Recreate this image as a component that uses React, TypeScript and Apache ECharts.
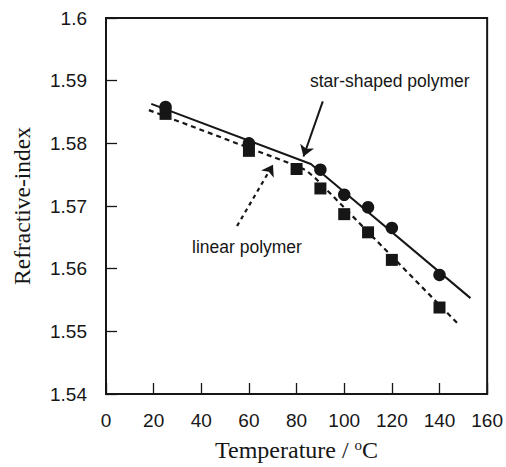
import React, { useEffect, useRef } from "react";
import * as echarts from "echarts";

// Star-shaped polymer: measured points (Temperature °C, refractive index)
const starTemps = [25, 60, 90, 100, 110, 120, 140];
const starIndex = [1.5858, 1.58, 1.5758, 1.5718, 1.5698, 1.5665, 1.559];
// Linear polymer: measured points
const linearTemps = [25, 60, 80, 90, 100, 110, 120, 140];
const linearIndex = [1.5847, 1.5788, 1.5759, 1.5728, 1.5687, 1.5658, 1.5614, 1.5538];
// Fitted trend lines (two-segment)
const starFitT = [19, 86, 153];
const starFitN = [1.5863, 1.5767, 1.5553];
const linearFitT = [18, 80, 84, 88, 148];
const linearFitN = [1.5853, 1.5764, 1.5757, 1.5744, 1.5511];
// Annotation arrows (tail -> head) in data coordinates
const starArrow = [[91, 1.5867], [82.9, 1.5779]];
const linearArrow = [[55, 1.5668], [70.1, 1.5766]];
// Axis ticks
const xTicks = { min: 0, max: 160, interval: 20 };
const yTicks = { min: 1.54, max: 1.6, interval: 0.01 };

const zip = (a: number[], b: number[]) => a.map((v, i) => [v, b[i]]);

export default function App() {
  const ref = useRef<HTMLDivElement>(null);
  useEffect(() => {
    document.body.style.margin = "0";
    if (!ref.current) return;
    const chart = echarts.init(ref.current, undefined, { renderer: "svg" });
    const ink = "#161616";
    const sans = "Liberation Sans";
    const serif = "Liberation Serif";
    chart.setOption({
      animation: false,
      backgroundColor: "#ffffff",
      grid: {
        left: 106,
        top: 18,
        width: 382,
        height: 382,
        show: true,
        borderColor: ink,
        borderWidth: 2,
        backgroundColor: "transparent",
      },
      xAxis: {
        type: "value",
        min: xTicks.min,
        max: xTicks.max,
        interval: xTicks.interval,
        name: "Temperature / {sup|o}C",
        nameLocation: "middle",
        nameGap: 43,
        nameTextStyle: {
          fontFamily: serif,
          fontSize: 24,
          color: ink,
          rich: {
            sup: { fontFamily: serif, fontSize: 15, color: ink, padding: [0, 0, 11, 0] },
          },
        },
        axisLine: { show: true, lineStyle: { color: ink, width: 2 } },
        axisTick: { show: true, inside: true, length: 11, lineStyle: { color: ink, width: 1.3 } },
        axisLabel: { fontFamily: sans, fontSize: 19, color: ink, margin: 17 },
        splitLine: { show: false },
      },
      yAxis: {
        type: "value",
        min: yTicks.min,
        max: yTicks.max,
        interval: yTicks.interval,
        name: "Refractive-index",
        nameLocation: "middle",
        nameGap: 72,
        nameTextStyle: { fontFamily: serif, fontSize: 23.5, color: ink },
        axisLine: { show: true, lineStyle: { color: ink, width: 2 } },
        axisTick: { show: true, inside: true, length: 11, lineStyle: { color: ink, width: 1.3 } },
        axisLabel: {
          fontFamily: sans,
          fontSize: 19,
          color: ink,
          margin: 19,
          formatter: (v: number) => String(parseFloat(v.toFixed(2))),
        },
        splitLine: { show: false },
      },
      series: [
        {
          type: "line",
          data: zip(starFitT, starFitN),
          symbol: "none",
          lineStyle: { color: ink, width: 2, type: "solid" },
          z: 2,
        },
        {
          type: "line",
          data: zip(linearFitT, linearFitN),
          symbol: "none",
          lineStyle: { color: ink, width: 2.2, type: [5, 4] },
          z: 2,
        },
        {
          type: "scatter",
          data: zip(linearTemps, linearIndex),
          symbol: "rect",
          symbolSize: 12,
          itemStyle: { color: ink, opacity: 1 },
          z: 3,
        },
        {
          type: "scatter",
          data: zip(starTemps, starIndex),
          symbol: "circle",
          symbolSize: 12.5,
          itemStyle: { color: ink, opacity: 1 },
          z: 4,
        },
        {
          type: "lines",
          coordinateSystem: "cartesian2d",
          polyline: false,
          symbol: ["none", "arrow"],
          symbolSize: 11,
          lineStyle: { color: ink, width: 2, type: "solid", opacity: 1 },
          data: [{ coords: starArrow }],
          z: 5,
        },
        {
          type: "lines",
          coordinateSystem: "cartesian2d",
          polyline: false,
          symbol: ["none", "arrow"],
          symbolSize: 11,
          lineStyle: { color: ink, width: 2.2, type: [4, 4], opacity: 1 },
          data: [{ coords: linearArrow }],
          z: 5,
        },
      ],
      graphic: [
        {
          type: "text",
          left: 310,
          top: 72,
          style: { text: "star-shaped polymer", fontFamily: sans, fontSize: 17.5, fill: ink },
        },
        {
          type: "text",
          left: 192,
          top: 238,
          style: { text: "linear polymer", fontFamily: sans, fontSize: 17.5, fill: ink },
        },
      ],
    });
    return () => chart.dispose();
  }, []);
  return <div ref={ref} style={{ width: 506, height: 467 }} />;
}
